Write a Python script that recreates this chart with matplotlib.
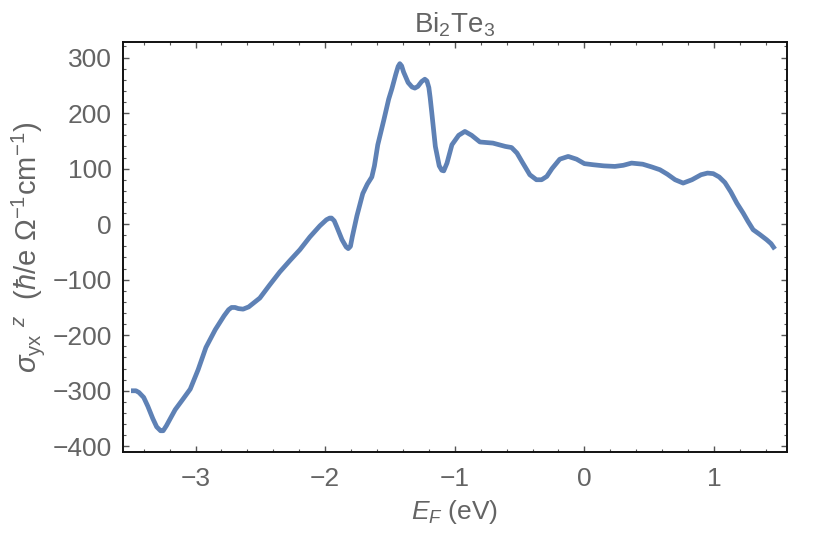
import matplotlib
matplotlib.use("Agg")
import matplotlib.pyplot as plt
from matplotlib.ticker import MultipleLocator

energy = [-3.498, -3.460, -3.437, -3.400, -3.368, -3.330, -3.300, -3.270, -3.250, -3.225,
          -3.190, -3.157, -3.100, -3.041, -2.980, -2.920, -2.848, -2.780, -2.745, -2.722,
          -2.695, -2.670, -2.633, -2.590, -2.504, -2.430, -2.350, -2.270, -2.195, -2.118,
          -2.041, -1.990, -1.965, -1.951, -1.930, -1.910, -1.870, -1.838, -1.822, -1.805,
          -1.790, -1.755, -1.710, -1.675, -1.640, -1.620, -1.594, -1.547, -1.510, -1.485,
          -1.455, -1.437, -1.424, -1.410, -1.395, -1.360, -1.330, -1.308, -1.285, -1.255,
          -1.231, -1.215, -1.200, -1.190, -1.177, -1.150, -1.120, -1.100, -1.085, -1.060,
          -1.022, -0.970, -0.922, -0.870, -0.806, -0.706, -0.610, -0.562, -0.520, -0.480,
          -0.421, -0.370, -0.330, -0.290, -0.250, -0.190, -0.125, -0.060, 0.000, 0.068,
          0.150, 0.235, 0.300, 0.364, 0.450, 0.520, 0.583, 0.640, 0.700, 0.762,
          0.830, 0.900, 0.950, 0.994, 1.040, 1.084, 1.130, 1.176, 1.225, 1.262,
          1.302, 1.350, 1.406, 1.440, 1.470]
sigma = [-300, -300, -303, -312, -328, -350, -365, -372, -372, -363,
         -348, -334, -316, -297, -262, -222, -190, -165, -154, -150,
         -150, -152, -153, -149, -133, -110, -86, -65, -46, -23,
         -3, 8, 11, 11, 6, -5, -28, -41, -44, -40,
         -22, 15, 55, 72, 85, 105, 143, 188, 225, 244,
         270, 284, 289, 285, 274, 255, 247, 245, 248, 257,
         261, 258, 246, 228, 200, 140, 105, 97, 96, 110,
         143, 160, 167, 160, 148, 146, 140, 138, 128, 112,
         89, 80, 80, 86, 100, 117, 122, 117, 109, 107,
         105, 104, 106, 110, 108, 103, 98, 90, 80, 74,
         80, 89, 92, 91, 85, 75, 58, 38, 20, 5,
         -10, -18, -28, -35, -45]

xticks = [-3, -2, -1, 0, 1]
yticks = [-400, -300, -200, -100, 0, 100, 200, 300]

title_text = r"Bi$_2$Te$_3$"
xlabel_text = r"$E_F$ (eV)"
ylabel_text = r"$\sigma_{\mathrm{yx}}{}^{\;\,z}$  ($\hbar$/e $\Omega^{-1}$cm$^{-1}$)"

plt.rcParams['font.family'] = ['Liberation Sans', 'DejaVu Sans']
plt.rcParams['mathtext.fontset'] = 'custom'
plt.rcParams['mathtext.rm'] = 'Liberation Sans'
plt.rcParams['mathtext.it'] = 'Liberation Sans:italic'
plt.rcParams['mathtext.bf'] = 'Liberation Sans:bold'

gray = '#646464'
fig = plt.figure(figsize=(8.3, 5.36), dpi=100)
ax = fig.add_axes([0.148, 0.157, 0.800, 0.7646])
ax.plot(energy, sigma, color='#5E81B5', linewidth=3.4, solid_capstyle='butt',
        solid_joinstyle='round')

ax.set_xlim(-3.561, 1.562)
ax.set_ylim(-410, 328)
ax.set_xticks(xticks)
ax.set_yticks(yticks)
ax.set_xticklabels([str(t).replace('-', '\u2212') for t in xticks])
ax.set_yticklabels([str(t).replace('-', '\u2212') for t in yticks])
ax.xaxis.set_minor_locator(MultipleLocator(0.2))
ax.yaxis.set_minor_locator(MultipleLocator(20))
ax.tick_params(which='both', direction='in', top=True, right=True,
               colors='#555555', labelcolor=gray, labelsize=19)
ax.tick_params(which='major', length=4, width=1.0)
ax.tick_params(axis='x', which='major', pad=11)
ax.tick_params(axis='y', which='major', pad=8)
ax.tick_params(which='minor', length=2.2, width=0.8)
for s in ax.spines.values():
    s.set_linewidth(1.4)
    s.set_color('#111111')

ax.set_title(title_text, color=gray, fontsize=20, pad=7)
ax.set_xlabel(xlabel_text, color=gray, fontsize=19, labelpad=5)
ax.set_ylabel(ylabel_text, color=gray, fontsize=21, labelpad=4)

fig.savefig('out.png', dpi=100)
